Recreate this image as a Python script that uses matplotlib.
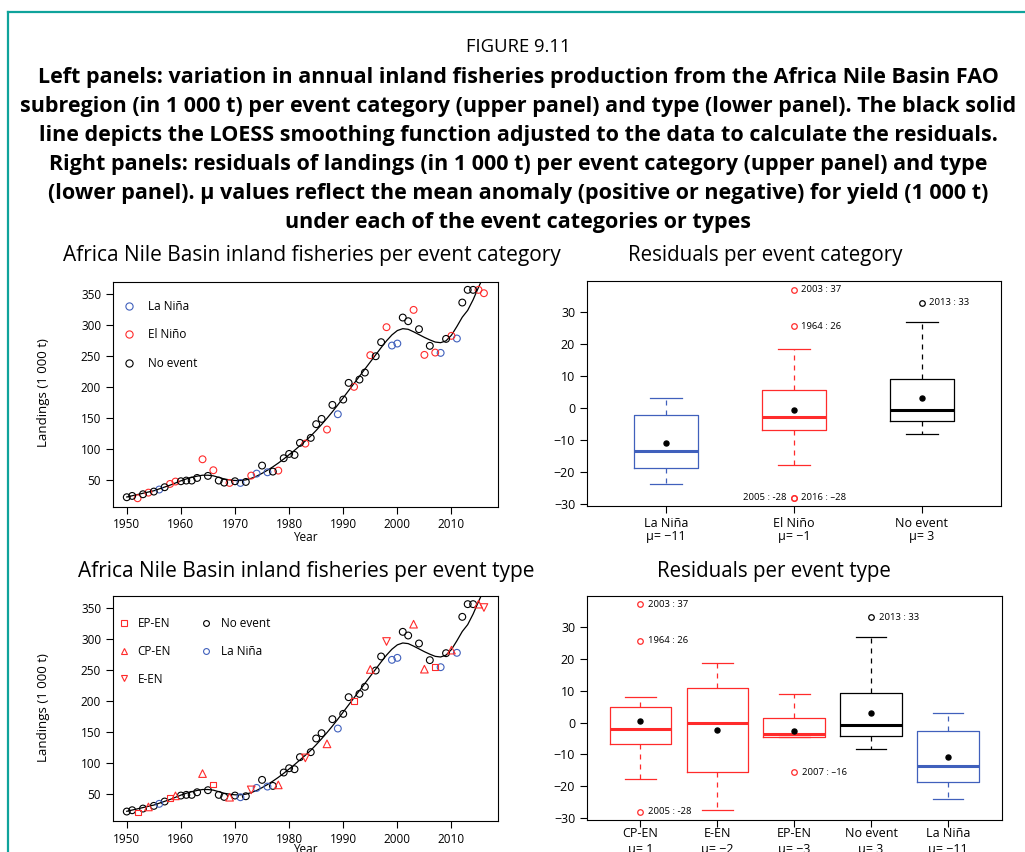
import matplotlib
matplotlib.use('Agg')
import matplotlib.pyplot as plt
from matplotlib.lines import Line2D

plt.rcParams['font.family'] = ['Open Sans', 'DejaVu Sans']

# annual landings (1 000 t)
years = list(range(1950, 2017))
landings = [22.6, 24.7, 21.0, 27.4, 30.0, 31.7, 35.0, 38.7, 44.0, 47.8,
            48.3, 49.4, 49.4, 53.6, 83.6, 56.9, 66.0, 49.4, 46.1, 45.6,
            48.3, 45.6, 47.2, 57.4, 60.6, 73.5, 62.7, 63.8, 65.4, 85.3,
            92.2, 90.6, 110.0, 108.8, 118.0, 140.0, 148.5, 131.4, 171.0, 156.0,
            179.6, 206.4, 200.0, 211.7, 223.0, 250.9, 249.2, 271.8, 295.9, 266.4,
            269.6, 311.4, 305.5, 323.7, 292.7, 251.4, 265.9, 255.1, 254.6, 277.1,
            282.0, 277.7, 335.5, 355.9, 355.9, 355.9, 350.5]
# LOESS curve as drawn in the reference
loess_fit = [23, 25, 27, 29, 31, 33, 36, 39, 42, 45.5,
             49, 52, 54.5, 56.5, 58, 58, 57, 54.5, 52, 50.5,
             49.5, 49.5, 50.5, 53, 56.5, 61, 66, 71.5, 77.5, 84,
             91, 98, 105.5, 113, 121, 130, 139.5, 149.5, 160, 171,
             182.5, 194, 205.5, 217, 228.5, 240, 251.5, 263, 274, 283.5,
             290.5, 293.5, 292.5, 288.5, 284, 279.5, 275.5, 272, 271, 274,
             283, 297, 312, 323, 340, 360, 379]
# N = no event, LN = La Nina, EP/CP/E = El Nino types
event_type = ['N', 'N', 'EP', 'N', 'CP', 'N', 'LN', 'N', 'EP', 'CP',
              'N', 'N', 'N', 'N', 'CP', 'N', 'EP', 'N', 'N', 'CP',
              'N', 'LN', 'N', 'E', 'LN', 'N', 'LN', 'N', 'CP', 'N',
              'N', 'N', 'N', 'E', 'N', 'N', 'N', 'CP', 'N', 'LN',
              'N', 'N', 'EP', 'N', 'N', 'CP', 'N', 'N', 'E', 'LN',
              'LN', 'N', 'N', 'CP', 'N', 'CP', 'N', 'EP', 'LN', 'N',
              'CP', 'LN', 'N', 'N', 'N', 'CP', 'E']

# residual box stats per event category (upper right)
cat_labels = ['La Niña', 'El Niño', 'No event']
cat_mu = ['\u221211', '\u22121', '3']
cat_whislo = [-23.8, -17.7, -8.1]
cat_q1 = [-18.7, -6.9, -4.0]
cat_med = [-13.5, -2.8, -0.6]
cat_q3 = [-2.3, 5.8, 9.1]
cat_whishi = [3.2, 18.5, 26.8]
cat_mean = [-10.8, -0.7, 3.0]
cat_out_box = [1, 1, 1, 1, 2]
cat_out_val = [37.0, 25.6, -28.0, -28.0, 32.9]
cat_out_text = ['2003 : 37', '1964 : 26', '2005 : -28', '2016 : \u201328', '2013 : 33']
cat_out_side = ['r', 'r', 'l', 'r', 'r']

# residual box stats per event type (lower right)
typ_labels = ['CP-EN', 'E-EN', 'EP-EN', 'No event', 'La Niña']
typ_mu = ['1', '\u22122', '\u22123', '3', '\u221211']
typ_whislo = [-17.7, -27.5, -4.5, -8.2, -23.9]
typ_q1 = [-6.8, -15.6, -4.5, -4.2, -18.75]
typ_med = [-2.1, -0.1, -3.6, -0.7, -13.5]
typ_q3 = [5.0, 10.9, 1.4, 9.1, -2.5]
typ_whishi = [8.0, 18.5, 8.9, 26.8, 3.1]
typ_mean = [0.6, -2.3, -2.7, 3.1, -10.8]
typ_out_box = [0, 0, 0, 2, 3]
typ_out_val = [37.0, 25.6, -27.9, -15.6, 32.9]
typ_out_text = ['2003 : 37', '1964 : 26', '2005 : -28', '2007 : \u201316', '2013 : 33']

RED = '#FF2B2B'
BLUE = '#4060BC'
BLACK = '#000000'
TEAL = '#0FA39B'

W, H = 1025, 852
fig = plt.figure(figsize=(W / 100, H / 100), dpi=100)


def px_axes(left, top, right, bottom):
    return fig.add_axes([left / W, 1 - bottom / H, (right - left) / W, (bottom - top) / H])


def style_axes(ax, fs):
    for s in ax.spines.values():
        s.set_linewidth(0.8)
    ax.tick_params(direction='out', length=4.8, width=0.8, labelsize=fs, pad=3.5)


def landings_panel(ax):
    ax.plot(years, loess_fit, color='black', lw=0.9, zorder=1)
    ax.set_xlim(1947.4, 2018.6)
    ax.set_ylim(7.4, 369)
    ax.set_xticks(range(1950, 2011, 10))
    ax.set_yticks(range(50, 351, 50))
    style_axes(ax, 8.5)


def residual_panel(ax, labels, mus, colors, lo, q1, med, q3, hi, mean,
                   out_box, out_val, width):
    stats = []
    for i in range(len(labels)):
        fl = [v for b, v in zip(out_box, out_val) if b == i]
        stats.append(dict(label=labels[i] + '\n\u03bc= ' + mus[i], whislo=lo[i], q1=q1[i],
                          med=med[i], q3=q3[i], whishi=hi[i], mean=mean[i], fliers=fl))
    art = ax.bxp(stats, positions=range(1, len(labels) + 1), widths=width,
                 capwidths=width / 2, showmeans=True,
                 boxprops=dict(lw=0.9), whiskerprops=dict(lw=0.9, ls=(0, (4, 4))),
                 capprops=dict(lw=0.9), medianprops=dict(lw=2.2),
                 meanprops=dict(marker='o', mfc='black', mec='black', ms=3.6),
                 flierprops=dict(marker='o', mfc='none', ms=4, mew=0.9))
    for i, c in enumerate(colors):
        art['boxes'][i].set_color(c)
        art['medians'][i].set_color(c)
        for k in (2 * i, 2 * i + 1):
            art['whiskers'][k].set_color(c)
            art['caps'][k].set_color(c)
        art['fliers'][i].set_markeredgecolor(c)
    ax.set_ylim(-30.5, 39.7)
    ax.set_yticks(range(-30, 31, 10))
    style_axes(ax, 9)
    ax.tick_params(axis='x', labelsize=9, pad=3)


def annotate(ax, pos, val, text, side):
    off = 5.5 if side == 'r' else -5.5
    ax.annotate(text, (pos, val), xytext=(off, 0), textcoords='offset points',
                ha='left' if side == 'r' else 'right', va='center', fontsize=6.8)


# ---- figure caption ----
fig.text(518 / W, 1 - 47 / H, 'FIGURE 9.11', ha='center', va='center', fontsize=13.3)
caption = ['Left panels: variation in annual inland fisheries production from the Africa Nile Basin FAO',
           'subregion (in 1 000 t) per event category (upper panel) and type (lower panel). The black solid',
           'line depicts the LOESS smoothing function adjusted to the data to calculate the residuals.',
           'Right panels: residuals of landings (in 1 000 t) per event category (upper panel) and type',
           '(lower panel). \u03bc values reflect the mean anomaly (positive or negative) for yield (1 000 t)',
           'under each of the event categories or types']
for i, line in enumerate(caption):
    fig.text(518 / W, 1 - (77.5 + 29 * i) / H, line, ha='center', va='center',
             fontsize=15.5, fontweight='bold')

fig.add_artist(Line2D([8 / W, 8 / W], [0, 1 - 12 / H], transform=fig.transFigure, color=TEAL, lw=1.6))
fig.add_artist(Line2D([8 / W, 1], [1 - 12 / H, 1 - 12 / H], transform=fig.transFigure, color=TEAL, lw=1.6))

# ---- upper left: per event category ----
ax1 = px_axes(112.7, 281.7, 498, 506.7)
landings_panel(ax1)
cat_of = {'N': 'No event', 'LN': 'La Niña', 'EP': 'El Niño', 'CP': 'El Niño', 'E': 'El Niño'}
cat_colors = {'La Niña': BLUE, 'El Niño': RED, 'No event': BLACK}
for cat in cat_labels:
    xs = [y for y, t in zip(years, event_type) if cat_of[t] == cat]
    vs = [v for v, t in zip(landings, event_type) if cat_of[t] == cat]
    ax1.scatter(xs, vs, s=24, facecolors='none', edgecolors=cat_colors[cat], linewidths=0.8, zorder=2)
h1 = [Line2D([], [], ls='none', marker='o', mfc='none', mec=cat_colors[c], ms=5.2, mew=0.8)
      for c in cat_labels]
ax1.legend(h1, cat_labels, loc='upper left', bbox_to_anchor=(123 / W, 1 - 300 / H),
           bbox_transform=fig.transFigure, frameon=False, fontsize=8.5, borderpad=0,
           borderaxespad=0, handlelength=1.0, handletextpad=1.1, labelspacing=1.3)
ax1.set_xlabel('Year', fontsize=8.5, labelpad=0)

# ---- upper right: residuals per category ----
ax2 = px_axes(586.7, 281, 1001, 505.7)
residual_panel(ax2, cat_labels, cat_mu, [BLUE, RED, BLACK], cat_whislo, cat_q1, cat_med,
               cat_q3, cat_whishi, cat_mean, cat_out_box, cat_out_val, 0.5)
ax2.set_xlim(0.38, 3.62)
for t in ax2.get_xticklabels():
    t.set_linespacing(1.05)
for b, v, t, s in zip(cat_out_box, cat_out_val, cat_out_text, cat_out_side):
    annotate(ax2, b + 1, v, t, s)

# ---- lower left: per event type ----
ax3 = px_axes(112.7, 596, 498, 821)
landings_panel(ax3)
typ_style = {'EP': ('EP-EN', 's', RED, 18), 'CP': ('CP-EN', '^', RED, 30),
             'E': ('E-EN', 'v', RED, 30), 'N': ('No event', 'o', BLACK, 24),
             'LN': ('La Niña', 'o', BLUE, 24)}
for key in ['N', 'LN', 'EP', 'CP', 'E']:
    name, mk, col, sz = typ_style[key]
    xs = [y for y, t in zip(years, event_type) if t == key]
    vs = [v for v, t in zip(landings, event_type) if t == key]
    ax3.scatter(xs, vs, s=sz, marker=mk, facecolors='none', edgecolors=col, linewidths=0.8, zorder=2)
leg_keys = ['EP', 'CP', 'E', 'N', 'LN']
h3 = [Line2D([], [], ls='none', marker=typ_style[k][1], mfc='none', mec=typ_style[k][2],
             ms=4.2, mew=0.8) for k in leg_keys]
ax3.legend(h3, [typ_style[k][0] for k in leg_keys], ncol=2, loc='upper left',
           bbox_to_anchor=(120 / W, 1 - 617 / H), bbox_transform=fig.transFigure,
           frameon=False, fontsize=8.5, borderpad=0, borderaxespad=0, handlelength=0.6,
           handletextpad=0.9, labelspacing=1.25, columnspacing=2.7)
ax3.set_xlabel('Year', fontsize=8.5, labelpad=-2)

# ---- lower right: residuals per type ----
ax4 = px_axes(586.7, 595.7, 1001.7, 820)
residual_panel(ax4, typ_labels, typ_mu, [RED, RED, RED, BLACK, BLUE], typ_whislo, typ_q1,
               typ_med, typ_q3, typ_whishi, typ_mean, typ_out_box, typ_out_val, 0.8)
ax4.set_xlim(0.3, 5.7)
ax4.tick_params(axis='x', pad=0.5)
for t in ax4.get_xticklabels():
    t.set_linespacing(1.25)
for b, v, t in zip(typ_out_box, typ_out_val, typ_out_text):
    annotate(ax4, b + 1, v, t, 'r')

# ---- panel titles and y labels ----
fig.text(312 / W, 1 - 255 / H, 'Africa Nile Basin inland fisheries per event category',
         ha='center', va='center', fontsize=15)
fig.text(765 / W, 1 - 255 / H, 'Residuals per event category', ha='center', va='center', fontsize=14.8)
fig.text(306 / W, 1 - 571 / H, 'Africa Nile Basin inland fisheries per event type',
         ha='center', va='center', fontsize=15)
fig.text(774 / W, 1 - 571 / H, 'Residuals per event type', ha='center', va='center', fontsize=14.8)
for yc in (393, 708):
    fig.text(43 / W, 1 - yc / H, 'Landings (1 000 t)', rotation=90, ha='center', va='center',
             fontsize=9.5)

fig.savefig('out.png', dpi=100)
